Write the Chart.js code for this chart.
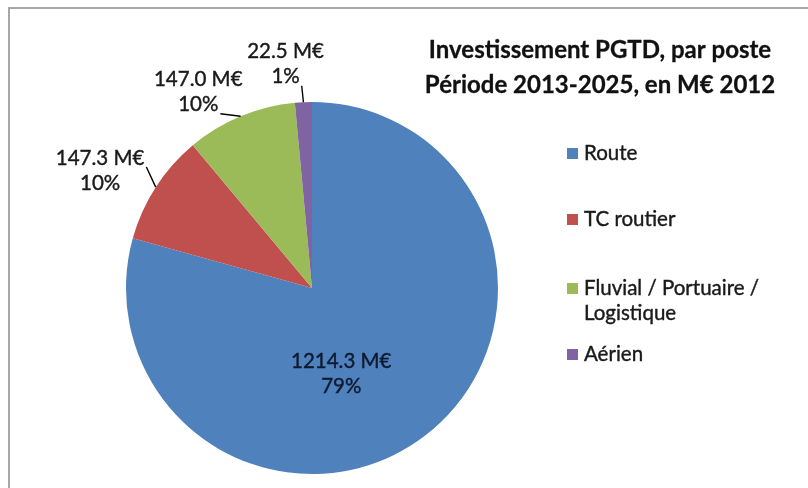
<!DOCTYPE html>
<html lang="fr">
<head>
    <meta charset="UTF-8">
    <title>Investissement PGTD, par poste</title>
    <script src="https://cdn.jsdelivr.net/npm/chart.js"></script>
    <style>
        body {
            margin: 0;
            background: #fff;
            font-family: Lato, sans-serif;
        }
        #frame {
            position: absolute;
            left: 8px;
            top: 7px;
            width: 830px;
            height: 520px;
            border: 2px solid #a6a6a6;
        }
        #wrap {
            position: absolute;
            left: 0;
            top: 0;
            width: 808px;
            height: 488px;
        }
    </style>
</head>
<body>
    <div id="frame"></div>
    <div id="wrap"><canvas id="pie"></canvas></div>

    <script>
        const postes = ['Route', 'TC routier', 'Fluvial / Portuaire / Logistique', 'Aérien'];
        const montants = [1214.3, 147.3, 147.0, 22.5];   // M€ 2012
        const couleurs = ['#4f81bd', '#c0504d', '#9bbb59', '#8064a2'];
        const titre = ['Investissement PGTD, par poste', 'Période 2013-2025, en M€ 2012'];
        // legend lines (long entry wraps on two lines)
        const legendeLignes = [['Route'], ['TC routier'], ['Fluvial / Portuaire /', 'Logistique'], ['Aérien']];

        // where each value label sits: distance beyond the rim along the slice middle, then a nudge
        const placement = [
            { d: -93, dx: -27, dy: 12, inside: true },
            { d: 40, dx: -22, dy: 5 },
            { d: 40, dx: -27, dy: 13 },
            { d: 40, dx: -16, dy: 2 }
        ];

        const FONT = 'Lato, "Open Sans", sans-serif';
        const LINE_H = 25;

        function fmt(v) {
            return v.toFixed(1) + ' M€';
        }

        // text with a hairline stroke so it reads a bit heavier
        function text(ctx, t, x, y) {
            ctx.fillText(t, x, y);
            ctx.strokeText(t, x, y);
        }

        const pieLabels = {
            id: 'pieLabels',
            afterDatasetsDraw(chart) {
                const ctx = chart.ctx;
                const meta = chart.getDatasetMeta(0);
                const data = chart.data.datasets[0].data;
                const total = data.reduce((a, b) => a + b, 0);
                ctx.save();
                ctx.font = '20.5px ' + FONT;
                ctx.textAlign = 'center';
                ctx.textBaseline = 'middle';
                meta.data.forEach((arc, i) => {
                    const p = arc.getProps(['x', 'y', 'startAngle', 'endAngle', 'outerRadius'], true);
                    const mid = (p.startAngle + p.endAngle) / 2;
                    const cx = Math.cos(mid), cy = Math.sin(mid);
                    const pl = placement[i];
                    const lx = p.x + cx * (p.outerRadius + pl.d) + pl.dx;
                    const ly = p.y + cy * (p.outerRadius + pl.d) + pl.dy;
                    const lines = [fmt(data[i]), Math.round(data[i] / total * 100) + '%'];
                    const ys = [ly - LINE_H / 2, ly + LINE_H / 2];

                    if (!pl.inside) {
                        // leader line from rim to the closest text line
                        const ex = p.x + cx * p.outerRadius;
                        const ey = p.y + cy * p.outerRadius;
                        let best = null;
                        lines.forEach((t, k) => {
                            const w = ctx.measureText(t).width;
                            const x0 = lx - w / 2 - 2, x1 = lx + w / 2 + 2;
                            const y0 = ys[k] - 9, y1 = ys[k] + 9;
                            const qx = Math.min(Math.max(ex, x0), x1);
                            const qy = Math.min(Math.max(ey, y0), y1);
                            const dist = Math.hypot(ex - qx, ey - qy);
                            if (!best || dist < best.dist) best = { qx, qy, dist };
                        });
                        ctx.strokeStyle = '#000';
                        ctx.lineWidth = 1.4;
                        ctx.beginPath();
                        ctx.moveTo(best.qx, best.qy);
                        ctx.lineTo(ex, ey);
                        ctx.stroke();
                    }

                    ctx.fillStyle = pl.inside ? '#0f1a30' : '#1a1a1a';
                    ctx.strokeStyle = ctx.fillStyle;
                    ctx.lineWidth = 0.4;
                    lines.forEach((t, k) => text(ctx, t, lx, ys[k]));
                });
                ctx.restore();
            }
        };

        const titleAndLegend = {
            id: 'titleAndLegend',
            afterDraw(chart) {
                const ctx = chart.ctx;
                ctx.save();
                // title, two bold lines
                ctx.fillStyle = '#111';
                ctx.strokeStyle = '#111';
                ctx.lineWidth = 0.3;
                ctx.font = 'bold 24px ' + FONT;
                ctx.textAlign = 'center';
                ctx.textBaseline = 'middle';
                text(ctx, titre[0], 600, 50);
                text(ctx, titre[1], 600, 85);

                // legend
                ctx.font = '20.5px ' + FONT;
                ctx.textAlign = 'left';
                ctx.lineWidth = 0.4;
                const rows = [153, 219, 288, 354];
                legendeLignes.forEach((ls, i) => {
                    ctx.fillStyle = couleurs[i];
                    ctx.fillRect(567, rows[i] - 5, 11, 11);
                    ctx.fillStyle = '#1a1a1a';
                    ctx.strokeStyle = '#1a1a1a';
                    ls.forEach((t, k) => text(ctx, t, 584, rows[i] + k * 25));
                });
                ctx.restore();
            }
        };

        new Chart(document.getElementById('pie'), {
            type: 'pie',
            data: {
                labels: postes,
                datasets: [{
                    data: montants,
                    backgroundColor: couleurs,
                    borderWidth: 0
                }]
            },
            options: {
                responsive: true,
                maintainAspectRatio: false,
                animation: false,
                layout: {
                    padding: { left: 126, right: 310, top: 102, bottom: 14 }
                },
                plugins: {
                    legend: { display: false },
                    title: { display: false },
                    tooltip: { enabled: false }
                }
            },
            plugins: [pieLabels, titleAndLegend]
        });
    </script>
</body>
</html>
